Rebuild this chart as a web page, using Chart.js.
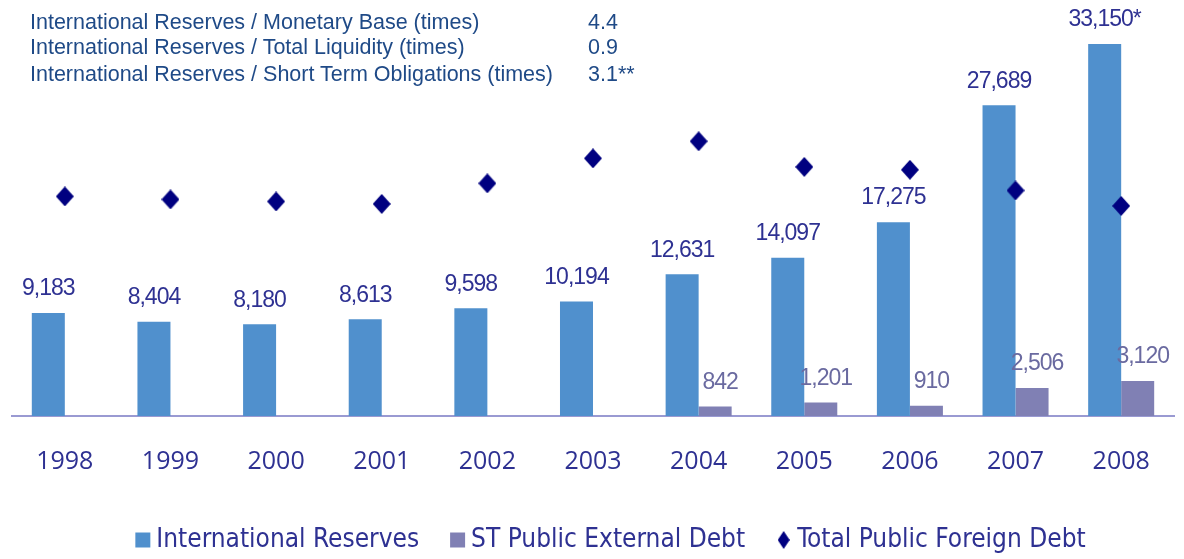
<!DOCTYPE html>
<html>
<head>
<meta charset="utf-8">
<script src="https://cdn.jsdelivr.net/npm/chart.js@4/dist/chart.umd.min.js"></script>
<style>
  html, body { margin: 0; padding: 0; background: #ffffff; }
  #wrap { position: relative; width: 1184px; height: 559px; }
  #c { position: absolute; left: 0; top: 0; }
  .ratio { position: absolute; font-family: "Liberation Sans", Arial, sans-serif; font-size: 21.5px; line-height: 26px; color: #1f4a87; white-space: nowrap; }
</style>
</head>
<body>
<div id="wrap">
  <canvas id="c" width="1184" height="559"></canvas>
  <div class="ratio" style="left:30px; top:9px;">International Reserves / Monetary Base (times)</div>
  <div class="ratio" style="left:588px; top:9px;">4.4</div>
  <div class="ratio" style="left:30px; top:34px;">International Reserves / Total Liquidity (times)</div>
  <div class="ratio" style="left:588px; top:34px;">0.9</div>
  <div class="ratio" style="left:30px; top:61px;">International Reserves / Short Term Obligations (times)</div>
  <div class="ratio" style="left:588px; top:61px;">3.1**</div>
</div>
<script>
// ---- data ----
const years = ['1998','1999','2000','2001','2002','2003','2004','2005','2006','2007','2008'];
const reserves = [9183, 8404, 8180, 8613, 9598, 10194, 12631, 14097, 17275, 27689, 33150];
const reserveNotes = ['', '', '', '', '', '', '', '', '', '', '*'];
const stDebt = [null, null, null, null, null, null, 842, 1201, 910, 2506, 3120];
const totalDebt = [19570, 19300, 19120, 18900, 20730, 22960, 24480, 22200, 21940, 20100, 18720];
const seriesNames = ['International Reserves', 'ST Public External Debt', 'Total Public Foreign Debt'];

// ---- styles ----
const BLUE = '#5090cd';
const PURPLE = '#8080b4';
const NAVY = '#000080';
const TEXT = '#2e3192';

function diamond(w, h, color) {
  const cv = document.createElement('canvas');
  cv.width = w; cv.height = h;
  const g = cv.getContext('2d');
  g.fillStyle = color;
  g.beginPath();
  g.moveTo(w / 2, 0); g.lineTo(w, h / 2); g.lineTo(w / 2, h); g.lineTo(0, h / 2);
  g.closePath(); g.fill();
  return cv;
}
const pointDiamond = diamond(18, 20, NAVY);
const legendDiamond = diamond(12, 18, NAVY);

const fmt = v => v.toLocaleString('en-US');

const valueLabels = {
  id: 'valueLabels',
  afterDatasetsDraw(chart) {
    const ctx = chart.ctx;
    ctx.save();
    ctx.font = '23px "Liberation Sans", Arial, sans-serif';
    if ('letterSpacing' in ctx) ctx.letterSpacing = '-1px';
    ctx.textAlign = 'center';
    ctx.textBaseline = 'middle';
    [0, 1].forEach(di => {
      const meta = chart.getDatasetMeta(di);
      const data = chart.data.datasets[di].data;
      meta.data.forEach((el, i) => {
        const v = data[i];
        if (v == null) return;
        const txt = fmt(v) + (di === 0 ? reserveNotes[i] : '');
        ctx.fillStyle = di === 0 ? TEXT : '#6a6aa0';
        ctx.fillText(txt, el.x + (di === 1 ? 5 : 0), el.y - 24);
      });
    });
    ctx.restore();
  }
};

const legendShift = {
  id: 'legendShift',
  afterLayout(chart) {
    const lg = chart.legend;
    if (!lg) return;
    lg.left += 21; lg.right += 21;
    lg.top += 4; lg.bottom += 4;
  }
};

new Chart(document.getElementById('c'), {
  type: 'bar',
  data: {
    labels: years,
    datasets: [
      { label: seriesNames[0], data: reserves, backgroundColor: BLUE, pointStyle: 'rect',
        categoryPercentage: 0.625, barPercentage: 1, order: 2 },
      { label: seriesNames[1], data: stDebt, backgroundColor: PURPLE, pointStyle: 'rect',
        categoryPercentage: 0.625, barPercentage: 1, order: 3 },
      { type: 'line', label: seriesNames[2], data: totalDebt, showLine: false,
        pointStyle: pointDiamond, pointRadius: 10, pointHoverRadius: 10,
        backgroundColor: NAVY, borderColor: NAVY, order: 1, clip: false }
    ]
  },
  options: {
    responsive: false,
    animation: false,
    events: [],
    layout: { autoPadding: false, padding: { left: 12, right: 10, top: 0, bottom: 0 } },
    scales: {
      x: {
        grid: { display: false, drawTicks: false },
        border: { display: true, color: '#9a9ad2', width: 2 },
        ticks: { color: TEXT, font: { family: '"Open Sans", sans-serif', size: 25 }, padding: 31, maxRotation: 0 },
        afterFit(scale) { scale.height = 69; }
      },
      y: { display: false, min: 0, max: 37071 }
    },
    plugins: {
      tooltip: { enabled: false },
      legend: {
        position: 'bottom',
        labels: {
          usePointStyle: true,
          boxWidth: 1,
          boxHeight: 15,
          padding: 38,
          color: TEXT,
          font: { family: '"DejaVu Sans Condensed", "DejaVu Sans", sans-serif', size: 26 },
          sort: (a, b) => a.datasetIndex - b.datasetIndex,
          generateLabels(chart) {
            const items = Chart.defaults.plugins.legend.labels.generateLabels(chart);
            items.forEach(it => {
              if (it.datasetIndex === 2) { it.pointStyle = legendDiamond; }
              it.lineWidth = 0;
            });
            return items;
          }
        }
      }
    }
  },
  plugins: [valueLabels, legendShift]
});
</script>
</body>
</html>
